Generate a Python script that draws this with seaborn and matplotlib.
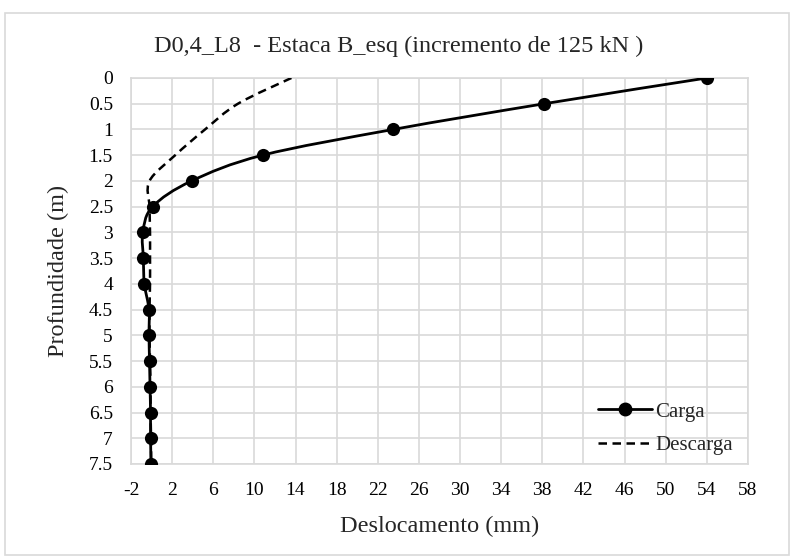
import numpy as np
import pandas as pd
import matplotlib
matplotlib.use("Agg")
import matplotlib.pyplot as plt
from matplotlib.path import Path
from matplotlib.patches import PathPatch, Rectangle
from matplotlib.lines import Line2D
import seaborn as sns

# Depth profile of pile displacement
profundidade = [0, 0.5, 1, 1.5, 2, 2.5, 3, 3.5, 4, 4.5, 5, 5.5, 6, 6.5, 7, 7.5]
carga = [54.0, 38.2, 23.5, 10.8, 3.9, 0.1, -0.85, -0.8, -0.7, -0.25, -0.25,
         -0.2, -0.15, -0.1, -0.1, -0.05]
descarga = [13.6, 8.4, 5.2, 2.3, -0.2, -0.2, -0.15, -0.15, -0.15, -0.2, -0.2,
            -0.15, -0.1, -0.1, -0.05, -0.05]

x_ticks = list(range(-2, 59, 4))
y_ticks = [0, 0.5, 1, 1.5, 2, 2.5, 3, 3.5, 4, 4.5, 5, 5.5, 6, 6.5, 7, 7.5]

titulo = "D0,4_L8  - Estaca B_esq (incremento de 125 kN )"

df = pd.DataFrame({"Profundidade": profundidade, "Carga": carga, "Descarga": descarga})

sns.set_theme(style="white")
plt.rcParams["font.family"] = ["Liberation Serif", "DejaVu Serif"]

fig = plt.figure(figsize=(7.94, 5.57), dpi=100)
ax = fig.add_axes([0.165, 0.167, 0.777, 0.693])

# chart area border
fig.patches.append(Rectangle((5 / 794, 2 / 557), 784 / 794, 542 / 557,
                             transform=fig.transFigure, fill=False,
                             edgecolor="#d9d9d9", linewidth=1.2))


def smooth_path(xs, ys):
    """Catmull-Rom style smoothed polyline as cubic Bezier path."""
    pts = np.column_stack([xs, ys]).astype(float)
    n = len(pts)
    verts = [pts[0]]
    codes = [Path.MOVETO]
    for i in range(n - 1):
        p0 = pts[i - 1] if i > 0 else pts[i]
        p1 = pts[i]
        p2 = pts[i + 1]
        p3 = pts[i + 2] if i + 2 < n else pts[i + 1]
        c1 = p1 + (p2 - p0) / 6.0
        c2 = p2 - (p3 - p1) / 6.0
        verts += [c1, c2, p2]
        codes += [Path.CURVE4] * 3
    return Path(verts, codes)


dash = (0, (3.4, 2.2))
ax.add_patch(PathPatch(smooth_path(df["Descarga"], df["Profundidade"]),
                       fill=False, edgecolor="black", linewidth=1.8,
                       linestyle=dash, zorder=3))
ax.add_patch(PathPatch(smooth_path(df["Carga"], df["Profundidade"]),
                       fill=False, edgecolor="black", linewidth=2.0, zorder=4))
sns.scatterplot(data=df, x="Carga", y="Profundidade", ax=ax, color="black",
                s=90, edgecolor="black", linewidth=0, zorder=5, legend=False)

ax.set_xlim(-2, 58)
ax.set_ylim(7.5, 0)
ax.set_xticks(x_ticks)
ax.set_xticklabels([str(v) for v in x_ticks])
ax.set_yticks(y_ticks)
ax.set_yticklabels([f"{v:g}" for v in y_ticks])
ax.grid(True, color="#d9d9d9", linewidth=1.2)
ax.set_axisbelow(True)
for side, sp in ax.spines.items():
    sp.set_visible(True)
    sp.set_color("#d9d9d9")
    sp.set_linewidth(1.2)
ax.tick_params(axis="both", length=0, labelsize=14, colors="black")
ax.tick_params(axis="y", pad=13)
ax.tick_params(axis="x", pad=13)

ax.set_xlabel("Deslocamento (mm)", fontsize=17.5, labelpad=12)
ax.set_ylabel("Profundidade (m)", fontsize=17.5, labelpad=14)
# chart title centred on the whole chart area
fig.text(0.502, 1 - 46 / 557, titulo, fontsize=17.5, ha="center", va="center")

handles = [
    Line2D([], [], color="black", linewidth=2.0, marker="o", markersize=9),
    Line2D([], [], color="black", linewidth=1.8, linestyle=dash),
]
ax.legend(handles, ["Carga", "Descarga"], loc="lower right", frameon=False,
          fontsize=15, handlelength=2.6, handletextpad=0.15,
          bbox_to_anchor=(1.006, -0.025), labelspacing=0.65)

fig.savefig("out.png", dpi=100)
